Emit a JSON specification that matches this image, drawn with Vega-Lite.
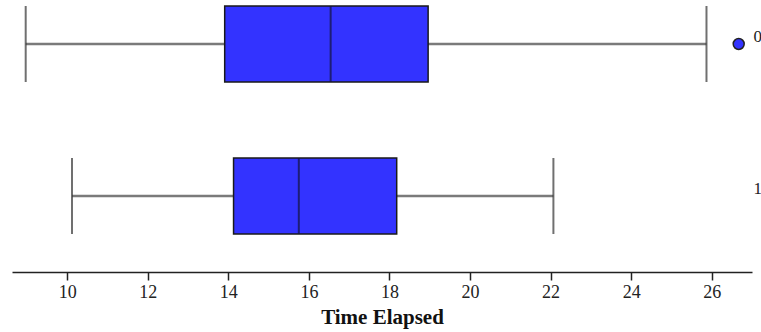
{
  "$schema": "https://vega.github.io/schema/vega-lite/v6.json",
  "width": 740,
  "height": 272,
  "autosize": {"type": "none"},
  "padding": {"left": 12, "top": 0, "right": 9, "bottom": 60},
  "background": "white",
  "config": {"view": {"stroke": null}, "font": "Liberation Serif"},
  "datasets": {
    "stats": [
      {"group": "0", "lower": 8.97, "q1": 13.91, "median": 16.54, "q3": 18.96, "upper": 25.87},
      {"group": "1", "lower": 10.12, "q1": 14.13, "median": 15.75, "q3": 18.18, "upper": 22.07}
    ],
    "outliers": [
      {"group": "0", "value": 26.67}
    ]
  },
  "encoding": {
    "y": {
      "field": "group", "type": "nominal",
      "scale": {"domain": ["0", "1"], "range": [-32, 272], "paddingInner": 0, "paddingOuter": 0},
      "axis": {"orient": "right", "title": null, "domain": false, "ticks": false, "labelPadding": 1, "labelOffset": -7, "labelFontSize": 17, "labelColor": "#222", "labelFont": "Liberation Serif"}
    }
  },
  "layer": [
    {
      "data": {"name": "stats"},
      "mark": {"type": "rule", "color": "#7a7a7a", "strokeWidth": 2.5},
      "encoding": {
        "x": {"field": "lower", "type": "quantitative",
          "scale": {"domain": [8.63, 27.0], "nice": false, "zero": false},
          "axis": {"values": [10, 12, 14, 16, 18, 20, 22, 24, 26], "title": "Time Elapsed", "grid": false,
            "domainColor": "#222", "domainWidth": 1.5, "tickColor": "#222", "tickSize": 8, "tickWidth": 1.5,
            "labelFontSize": 18, "labelColor": "#222", "labelPadding": 3, "labelFont": "Liberation Serif",
            "titleFontSize": 21, "titleFontWeight": "bold", "titleColor": "#111", "titleFont": "Liberation Serif", "titlePadding": 5}},
        "x2": {"field": "upper"}
      }
    },
    {
      "data": {"name": "stats"},
      "mark": {"type": "bar", "color": "#3333ff", "stroke": "#1a1a1a", "strokeWidth": 1.5, "height": {"band": 0.5}},
      "encoding": {
        "x": {"field": "q1", "type": "quantitative"},
        "x2": {"field": "q3"}
      }
    },
    {
      "data": {"name": "stats"},
      "mark": {"type": "tick", "color": "#14143c", "thickness": 2, "size": 76},
      "encoding": {"x": {"field": "median", "type": "quantitative"}}
    },
    {
      "data": {"name": "stats"},
      "mark": {"type": "tick", "color": "#333333", "thickness": 2, "size": 76},
      "encoding": {"x": {"field": "lower", "type": "quantitative"}}
    },
    {
      "data": {"name": "stats"},
      "mark": {"type": "tick", "color": "#333333", "thickness": 2, "size": 76},
      "encoding": {"x": {"field": "upper", "type": "quantitative"}}
    },
    {
      "data": {"name": "outliers"},
      "mark": {"type": "point", "filled": true, "fill": "#3333ff", "stroke": "#222", "strokeWidth": 1.5, "size": 120, "opacity": 1},
      "encoding": {"x": {"field": "value", "type": "quantitative"}}
    }
  ]
}
